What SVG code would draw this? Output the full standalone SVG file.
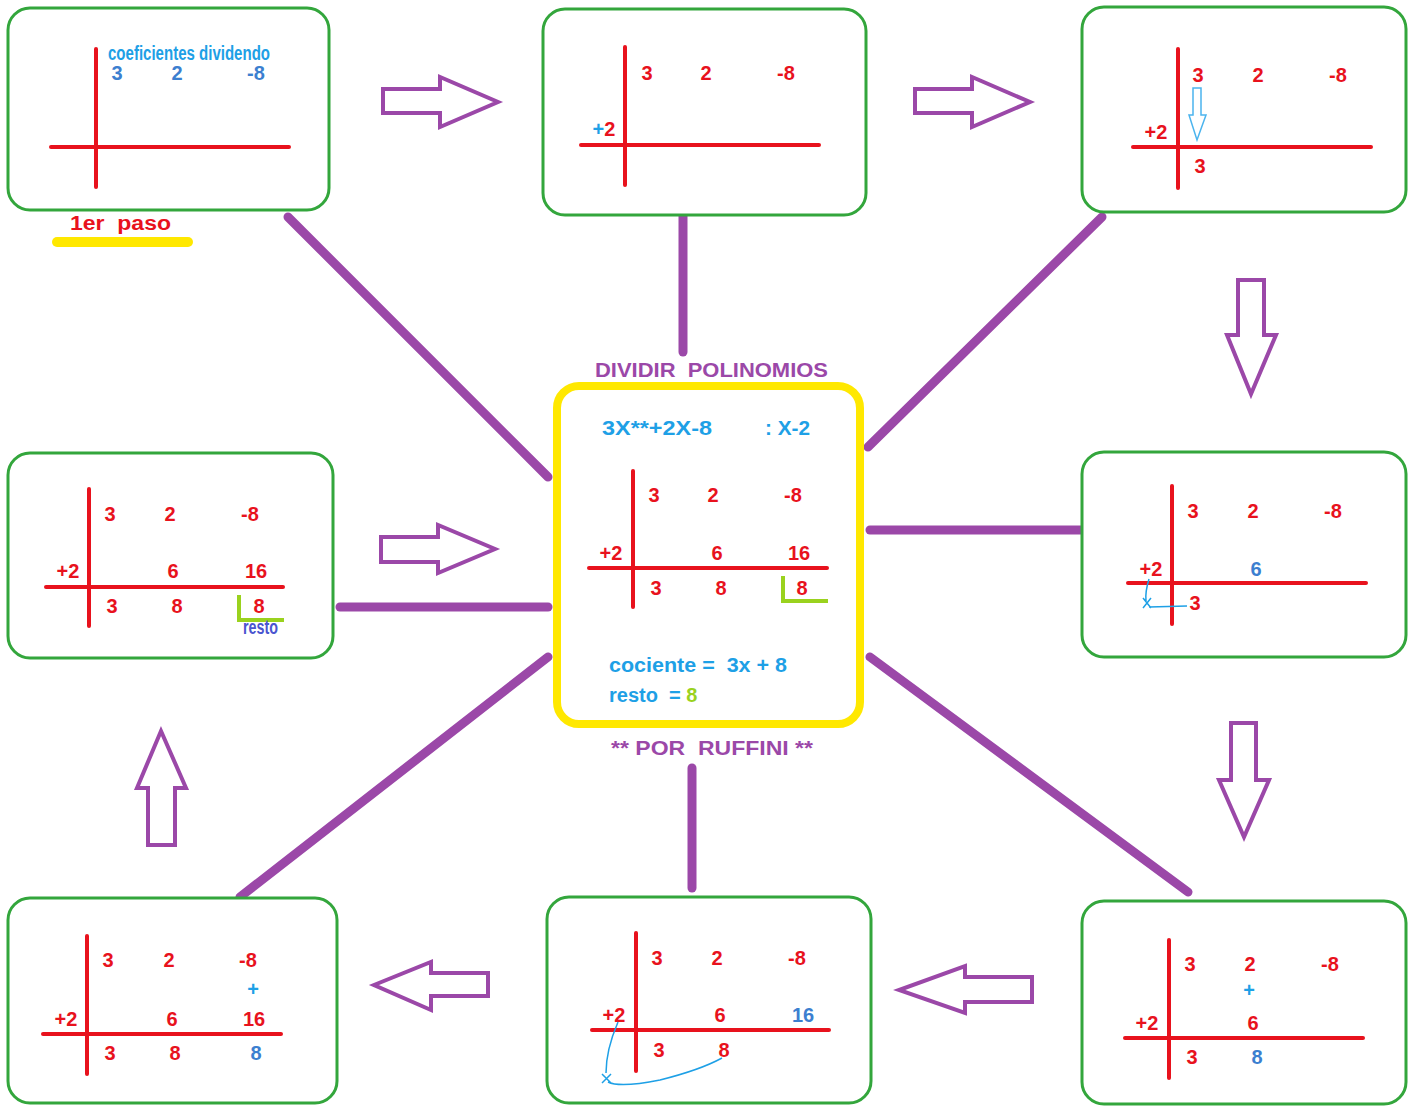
<svg xmlns="http://www.w3.org/2000/svg" width="1415" height="1106" viewBox="0 0 1415 1106" xml:space="preserve">
<style>
.box{fill:#fff;stroke:#33a63c;stroke-width:3}
.ax{stroke:#e8121d;stroke-width:4;stroke-linecap:round}
.n{font-family:"Liberation Sans",Arial,sans-serif;font-weight:bold;font-size:20px;fill:#e8121d;text-anchor:middle}
.b{fill:#1ea0e6}
.bd{fill:#3c7fd0}
.t{font-family:"Liberation Sans",Arial,sans-serif;font-weight:bold;font-size:20px;white-space:pre}
.con{stroke:#9b48a8;stroke-width:9;stroke-linecap:round;fill:none}
.arr{fill:#fff;stroke:#9b48a8;stroke-width:4;stroke-linejoin:miter}
.blu{stroke:#1ea0e6;stroke-width:1.5;fill:none}
.gl{stroke:#9ad21e;stroke-width:4;fill:none}
</style>
<rect width="1415" height="1106" fill="#fff"/>
<g id="connectors">
<line class="con" x1="288" y1="217" x2="548" y2="477"/>
<line class="con" x1="683" y1="215" x2="683" y2="352"/>
<line class="con" x1="1102" y1="217" x2="868" y2="447"/>
<line class="con" x1="870" y1="530" x2="1082" y2="530"/>
<line class="con" x1="870" y1="657" x2="1188" y2="892"/>
<line class="con" x1="692" y1="768" x2="692" y2="888"/>
<line class="con" x1="548" y1="657" x2="240" y2="897"/>
<line class="con" x1="340" y1="607" x2="548" y2="607"/>
<polygon class="arr" points="383,89 440,89 440,77 498,102 440,127 440,113 383,113"/>
<polygon class="arr" points="915,89 972,89 972,77 1030,102 972,127 972,113 915,113"/>
<polygon class="arr" points="1238,280 1264,280 1264,335 1276,335 1251,394 1227,335 1238,335"/>
<polygon class="arr" points="1231,723 1256,723 1256,780 1269,780 1244,837 1219,780 1231,780"/>
<polygon class="arr" points="1032,977 965,977 965,966 899,990 965,1013 965,1002 1032,1002"/>
<polygon class="arr" points="488,973 431,973 431,962 374,985 431,1010 431,996 488,996"/>
<polygon class="arr" points="148,845 175,845 175,788 186,788 161,731 137,788 148,788"/>
<polygon class="arr" points="381,537 438,537 438,525 495,549 438,573 438,562 381,562"/>
</g>
<g id="step1">
<rect class="box" x="8" y="8" width="321" height="202" rx="22"/>
<line class="ax" x1="96" y1="49" x2="96" y2="187"/>
<line class="ax" x1="51" y1="147" x2="289" y2="147"/>
<text class="t b" x="108" y="60" font-size="12" textLength="162" lengthAdjust="spacingAndGlyphs">coeficientes dividendo</text>
<text class="n bd" x="117" y="80">3</text>
<text class="n bd" x="177" y="80">2</text>
<text class="n bd" x="256" y="80">-8</text>
<text class="t" x="70" y="230" fill="#e8121d" textLength="101" lengthAdjust="spacingAndGlyphs">1er  paso</text>
<line x1="57" y1="242" x2="188" y2="242" stroke="#ffe800" stroke-width="10" stroke-linecap="round"/>
</g>
<g id="step2">
<rect class="box" x="543" y="9" width="323" height="206" rx="22"/>
<line class="ax" x1="625" y1="47" x2="625" y2="185"/>
<line class="ax" x1="581" y1="145" x2="819" y2="145"/>
<text class="n" x="647" y="80">3</text>
<text class="n" x="706" y="80">2</text>
<text class="n" x="786" y="80">-8</text>
<text class="n" x="604" y="136"><tspan class="b">+</tspan>2</text>
</g>
<g id="step3">
<rect class="box" x="1082" y="7" width="324" height="205" rx="22"/>
<line class="ax" x1="1178" y1="49" x2="1178" y2="188"/>
<line class="ax" x1="1133" y1="147" x2="1371" y2="147"/>
<text class="n" x="1198" y="82">3</text>
<text class="n" x="1258" y="82">2</text>
<text class="n" x="1338" y="82">-8</text>
<text class="n" x="1156" y="139">+2</text>
<text class="n" x="1200" y="173">3</text>
<polygon points="1193,88 1201,88 1201,115 1206,115 1197,140 1189,115 1193,115" fill="#fff" stroke="#4bb4ee" stroke-width="1.5"/>
</g>
<g id="step4">
<rect class="box" x="1082" y="452" width="324" height="205" rx="22"/>
<line class="ax" x1="1172" y1="486" x2="1172" y2="624"/>
<line class="ax" x1="1128" y1="583" x2="1366" y2="583"/>
<text class="n" x="1193" y="518">3</text>
<text class="n" x="1253" y="518">2</text>
<text class="n" x="1333" y="518">-8</text>
<text class="n" x="1151" y="576">+2</text>
<text class="n bd" x="1256" y="576">6</text>
<text class="n" x="1195" y="610">3</text>
<path class="blu" d="M1149,579 Q1145,592 1146,601 M1143,598 L1151,608 M1151,598 L1143,608 M1149,607 L1187,606"/>
</g>
<g id="step5">
<rect class="box" x="1082" y="901" width="324" height="203" rx="22"/>
<line class="ax" x1="1169" y1="940" x2="1169" y2="1078"/>
<line class="ax" x1="1125" y1="1038" x2="1363" y2="1038"/>
<text class="n" x="1190" y="971">3</text>
<text class="n" x="1250" y="971">2</text>
<text class="n" x="1330" y="971">-8</text>
<text class="n b" x="1249" y="997" font-size="17">+</text>
<text class="n" x="1147" y="1030">+2</text>
<text class="n" x="1253" y="1030">6</text>
<text class="n" x="1192" y="1064">3</text>
<text class="n bd" x="1257" y="1064">8</text>
</g>
<g id="step6">
<rect class="box" x="547" y="897" width="324" height="206" rx="22"/>
<line class="ax" x1="636" y1="933" x2="636" y2="1071"/>
<line class="ax" x1="592" y1="1030" x2="829" y2="1030"/>
<text class="n" x="657" y="965">3</text>
<text class="n" x="717" y="965">2</text>
<text class="n" x="797" y="965">-8</text>
<text class="n" x="614" y="1022">+2</text>
<text class="n" x="720" y="1022">6</text>
<text class="n bd" x="803" y="1022">16</text>
<text class="n" x="659" y="1057">3</text>
<text class="n" x="724" y="1057">8</text>
<path class="blu" d="M618,1022 Q606,1050 606,1073 M602,1074 L611,1083 M611,1074 L602,1083 M608,1082 Q620,1088 660,1080 Q700,1070 722,1058"/>
</g>
<g id="step7">
<rect class="box" x="8" y="898" width="329" height="205" rx="22"/>
<line class="ax" x1="87" y1="936" x2="87" y2="1074"/>
<line class="ax" x1="43" y1="1034" x2="281" y2="1034"/>
<text class="n" x="108" y="967">3</text>
<text class="n" x="169" y="967">2</text>
<text class="n" x="248" y="967">-8</text>
<text class="n b" x="253" y="996" font-size="17">+</text>
<text class="n" x="66" y="1026">+2</text>
<text class="n" x="172" y="1026">6</text>
<text class="n" x="254" y="1026">16</text>
<text class="n" x="110" y="1060">3</text>
<text class="n" x="175" y="1060">8</text>
<text class="n bd" x="256" y="1060">8</text>
</g>
<g id="step8">
<rect class="box" x="8" y="453" width="325" height="205" rx="22"/>
<line class="ax" x1="89" y1="489" x2="89" y2="626"/>
<line class="ax" x1="46" y1="587" x2="283" y2="587"/>
<text class="n" x="110" y="521">3</text>
<text class="n" x="170" y="521">2</text>
<text class="n" x="250" y="521">-8</text>
<text class="n" x="68" y="578">+2</text>
<text class="n" x="173" y="578">6</text>
<text class="n" x="256" y="578">16</text>
<text class="n" x="112" y="613">3</text>
<text class="n" x="177" y="613">8</text>
<text class="n" x="259" y="613">8</text>
<path class="gl" d="M239,595 V620 H284"/>
<text class="t" x="243" y="634" font-size="10" fill="#4a55d0" textLength="35" lengthAdjust="spacingAndGlyphs">resto</text>
</g>
<g id="center">
<text class="t" x="595" y="377" fill="#9b48a8" textLength="233" lengthAdjust="spacingAndGlyphs">DIVIDIR  POLINOMIOS</text>
<rect x="557" y="386" width="303" height="338" rx="22" fill="#fff" stroke="#ffe800" stroke-width="8"/>
<text class="t b" x="602" y="435" textLength="110" lengthAdjust="spacingAndGlyphs">3X**+2X-8</text>
<text class="t b" x="765" y="435" textLength="45" lengthAdjust="spacingAndGlyphs">: X-2</text>
<line class="ax" x1="633" y1="471" x2="633" y2="607"/>
<line class="ax" x1="589" y1="568" x2="827" y2="568"/>
<text class="n" x="654" y="502">3</text>
<text class="n" x="713" y="502">2</text>
<text class="n" x="793" y="502">-8</text>
<text class="n" x="611" y="560">+2</text>
<text class="n" x="717" y="560">6</text>
<text class="n" x="799" y="560">16</text>
<text class="n" x="656" y="595">3</text>
<text class="n" x="721" y="595">8</text>
<text class="n" x="802" y="595">8</text>
<path class="gl" d="M783,576 V601 H828"/>
<text class="t b" x="609" y="672" textLength="178" lengthAdjust="spacingAndGlyphs">cociente =  3x + 8</text>
<text class="t b" x="609" y="702">resto  = <tspan fill="#9ad21e">8</tspan></text>
<text class="t" x="611" y="755" fill="#9b48a8" textLength="202" lengthAdjust="spacingAndGlyphs">** POR  RUFFINI **</text>
</g>
</svg>
